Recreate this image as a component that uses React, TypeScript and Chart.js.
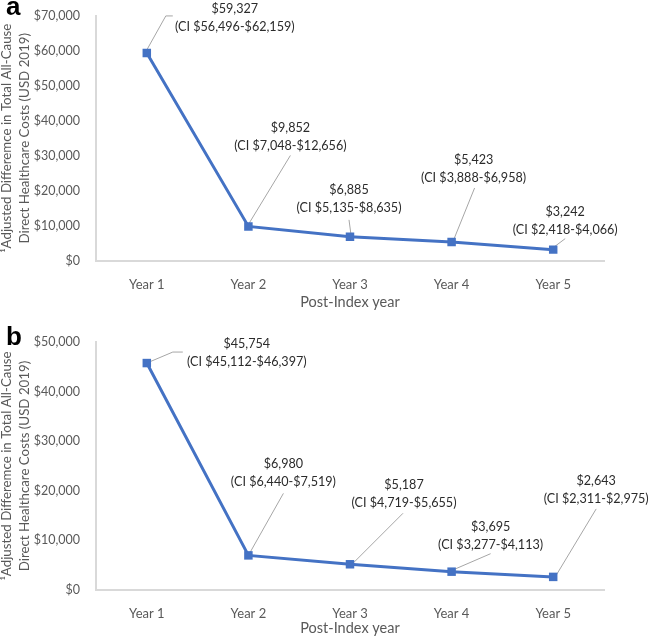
import React, { useEffect, useRef } from "react";
import { Chart, registerables } from "chart.js";

Chart.register(...registerables);

// ---------- data ----------
const categories = ["Year 1", "Year 2", "Year 3", "Year 4", "Year 5"];

const costsA = [59327, 9852, 6885, 5423, 3242];
const ciLowA = [56496, 7048, 5135, 3888, 2418];
const ciHighA = [62159, 12656, 8635, 6958, 4066];

const costsB = [45754, 6980, 5187, 3695, 2643];
const ciLowB = [45112, 6440, 4719, 3277, 2311];
const ciHighB = [46397, 7519, 5655, 4113, 2975];

const yMaxA = 70000;
const yMaxB = 50000;
const yStep = 10000;

const yTitle = ["\u00B9Adjusted Differemce in Total All-Cause", "Direct Healthcare Costs (USD 2019)"];
const xTitle = "Post-Index year";

// ---------- callout placement (pixel offsets from each point) ----------
type Callout = { label: [number, number]; leader: [number, number][] };

const calloutsA: Callout[] = [
  { label: [88, -44], leader: [[0, -3], [19, -37], [26, -37]] },
  { label: [42, -99], leader: [[0, -2], [42, -71]] },
  { label: [-1, -47], leader: [[1, -2], [-1, -17]] },
  { label: [22, -82], leader: [[2, -2], [23, -54]] },
  { label: [12, -38], leader: [[0, -2], [12, -11]] },
];

const calloutsB: Callout[] = [
  { label: [100, -19], leader: [[0, 0], [26, -11], [36, -11]] },
  { label: [35, -91], leader: [[0, 0], [35, -62]] },
  { label: [54, -79], leader: [[4, -2], [53, -51]] },
  { label: [39, -45], leader: [[2, -2], [39, -18]] },
  { label: [43, -96], leader: [[2, 0], [43, -68]] },
];

const fmt = (v: number) => v.toLocaleString("en-US");
const FONT = "Lato, 'Open Sans', sans-serif";

type PanelProps = {
  values: number[];
  lo: number[];
  hi: number[];
  yMax: number;
  callouts: Callout[];
  height: number;
  chartTop: number;
  chartBottom: number;
  xTitlePad: number;
};

function Panel(props: PanelProps) {
  const ref = useRef<HTMLCanvasElement | null>(null);

  useEffect(() => {
    let chart: Chart | null = null;
    let cancelled = false;
    const { values, lo, hi, yMax, callouts, height, chartTop, chartBottom, xTitlePad } = props;

    const calloutPlugin = {
      id: "callouts",
      beforeDatasetsDraw(c: any) {
        const ctx = c.ctx;
        const meta = c.getDatasetMeta(0);
        ctx.save();
        ctx.strokeStyle = "#a6a6a6";
        ctx.lineWidth = 1;
        meta.data.forEach((pt: any, i: number) => {
          const co = callouts[i];
          ctx.beginPath();
          co.leader.forEach(([dx, dy], k) => {
            if (k === 0) ctx.moveTo(pt.x + dx, pt.y + dy);
            else ctx.lineTo(pt.x + dx, pt.y + dy);
          });
          ctx.stroke();
        });
        ctx.restore();
      },
      afterDatasetsDraw(c: any) {
        const ctx = c.ctx;
        const meta = c.getDatasetMeta(0);
        ctx.save();
        ctx.fillStyle = "#2b2b2b";
        ctx.font = `12.6px ${FONT}`;
        ctx.textAlign = "center";
        ctx.textBaseline = "middle";
        meta.data.forEach((pt: any, i: number) => {
          const co = callouts[i];
          const x = pt.x + co.label[0];
          const y = pt.y + co.label[1];
          ctx.fillText(`$${fmt(values[i])}`, x, y);
          ctx.fillText(`(CI $${fmt(lo[i])}-$${fmt(hi[i])})`, x, y + 18);
        });
        ctx.restore();
      },
    };

    const make = () => {
      if (cancelled || !ref.current) return;
      chart = new Chart(ref.current, {
        type: "line",
        data: {
          labels: categories,
          datasets: [
            {
              data: values,
              borderColor: "#4472C4",
              backgroundColor: "#4472C4",
              borderWidth: 3,
              pointStyle: "rect",
              pointRadius: 6,
              pointBorderWidth: 0,
              pointBackgroundColor: "#4472C4",
              tension: 0,
            },
          ],
        },
        options: {
          animation: false,
          responsive: false,
          devicePixelRatio: 1,
          layout: { padding: { top: chartTop, right: 45, bottom: 0, left: 0 } },
          plugins: { legend: { display: false }, tooltip: { enabled: false } },
          scales: {
            x: {
              type: "category",
              offset: true,
              grid: { display: false },
              border: { display: true, color: "#d9d9d9", width: 2 },
              ticks: { color: "#595959", font: { family: FONT, size: 13 }, padding: 8 },
              title: {
                display: true,
                text: xTitle,
                color: "#595959",
                font: { family: FONT, size: 14.5 },
                padding: { top: 0, bottom: xTitlePad },
              },
              afterFit: (s: any) => {
                s.height = height - chartBottom;
              },
            },
            y: {
              min: 0,
              max: yMax,
              grid: { display: false },
              border: { display: true, color: "#d9d9d9", width: 2 },
              ticks: {
                stepSize: yStep,
                color: "#595959",
                font: { family: FONT, size: 12.5 },
                padding: 8,
                callback: (v: any) => `$${fmt(Number(v))}`,
              },
              title: {
                display: true,
                text: yTitle,
                color: "#595959",
                font: { family: FONT, size: 13.3, lineHeight: 1.36 },
                padding: { top: -2, bottom: 0 },
              },
              afterFit: (s: any) => {
                s.width = 96;
              },
            },
          },
        },
        plugins: [calloutPlugin],
      } as any);
    };

    const fontsApi = (document as any).fonts;
    if (fontsApi && fontsApi.load) {
      Promise.all([fontsApi.load(`13px Lato`), fontsApi.load(`14px Lato`)])
        .catch(() => null)
        .then(make);
    } else {
      make();
    }

    return () => {
      cancelled = true;
      if (chart) chart.destroy();
    };
  }, []);

  return (
    <canvas
      ref={ref}
      width={649}
      height={props.height}
      style={{ display: "block", width: 649, height: props.height }}
    />
  );
}

export default function App() {
  const letterStyle: React.CSSProperties = {
    position: "absolute",
    left: 6,
    fontFamily: "'Liberation Sans', Arial, sans-serif",
    fontWeight: "bold",
    fontSize: 26,
    lineHeight: "26px",
    color: "#000",
  };
  return (
    <div style={{ position: "absolute", left: 0, top: 0, width: 649, height: 637, background: "#fff", overflow: "hidden" }}>
      <div style={{ position: "absolute", left: 0, top: 0 }}>
        <Panel
          values={costsA}
          lo={ciLowA}
          hi={ciHighA}
          yMax={yMaxA}
          callouts={calloutsA}
          height={318}
          chartTop={13}
          chartBottom={261}
          xTitlePad={7}
        />
      </div>
      <div style={{ position: "absolute", left: 0, top: 318 }}>
        <Panel
          values={costsB}
          lo={ciLowB}
          hi={ciHighB}
          yMax={yMaxB}
          callouts={calloutsB}
          height={319}
          chartTop={24}
          chartBottom={272}
          xTitlePad={0}
        />
      </div>
      <div style={{ ...letterStyle, top: -7 }}>a</div>
      <div style={{ ...letterStyle, top: 323 }}>b</div>
    </div>
  );
}
